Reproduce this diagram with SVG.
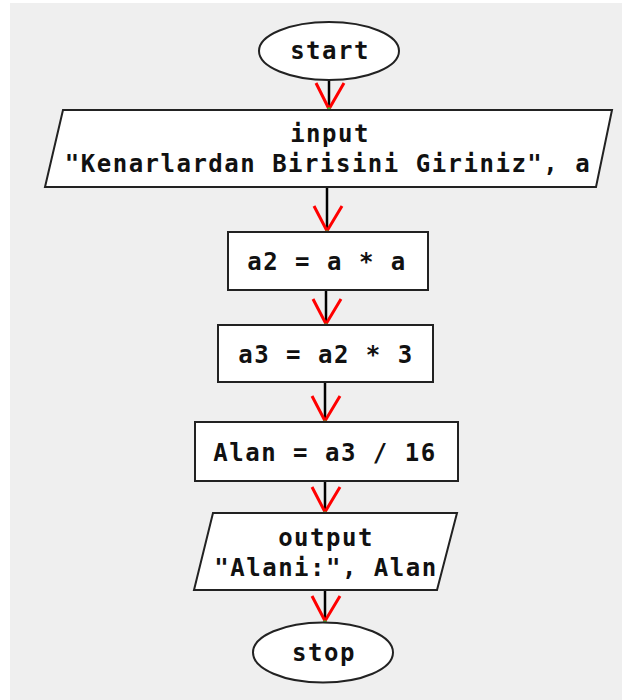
<svg xmlns="http://www.w3.org/2000/svg" width="622" height="700" viewBox="0 0 622 700">
<style>
.sh{fill:#fff;stroke:#222;stroke-width:2}
.t{font-family:"DejaVu Sans Mono","Liberation Mono",monospace;font-weight:bold;font-size:24px;fill:#111;text-anchor:middle;letter-spacing:1.5px}
.ln{stroke:#000;stroke-width:2.5}
.ah{fill:none;stroke:#f00;stroke-width:3}
.dot{fill:#3c3}
</style>
<rect x="0" y="0" width="622" height="700" fill="#fff"/>
<rect x="10" y="3" width="612" height="697" fill="#efefef"/>
<g id="connectors">
<line class="ln" x1="329" y1="80" x2="329" y2="110"/>
<polyline class="ah" points="316,83 329,109 344,83"/>
<line class="ln" x1="327" y1="187" x2="327" y2="232"/>
<polyline class="ah" points="314,206 327,231 342,206"/>
<line class="ln" x1="326" y1="290" x2="326" y2="325"/>
<polyline class="ah" points="313,299 326,324 341,299"/>
<line class="ln" x1="325" y1="382" x2="325" y2="422"/>
<polyline class="ah" points="312,396 325,421 340,396"/>
<line class="ln" x1="325" y1="481" x2="325" y2="513"/>
<polyline class="ah" points="312,487 325,512 340,487"/>
<line class="ln" x1="325" y1="590" x2="325" y2="622"/>
<polyline class="ah" points="312,596 325,621 340,596"/>
<rect class="dot" x="327.5" y="107.5" width="3" height="3"/>
<rect class="dot" x="325.5" y="230.5" width="3" height="3"/>
<rect class="dot" x="324.5" y="323.5" width="3" height="3"/>
<rect class="dot" x="323.5" y="420.5" width="3" height="3"/>
<rect class="dot" x="323.5" y="511.5" width="3" height="3"/>
<rect class="dot" x="323.5" y="620.5" width="3" height="3"/>
</g>
<g id="start">
<ellipse class="sh" cx="329" cy="51" rx="70" ry="29"/>
<text class="t" x="330" y="59">start</text>
</g>
<g id="input">
<polygon class="sh" points="63,110 612,110 596,187 45,187"/>
<text class="t" x="330" y="142">input</text>
<text class="t" x="328" y="172">"Kenarlardan Birisini Giriniz", a</text>
</g>
<g id="a2">
<rect class="sh" x="228" y="232" width="200" height="58"/>
<text class="t" x="327" y="270">a2 = a * a</text>
</g>
<g id="a3">
<rect class="sh" x="218" y="325" width="215" height="57"/>
<text class="t" x="326" y="363">a3 = a2 * 3</text>
</g>
<g id="alan">
<rect class="sh" x="195" y="422" width="263" height="59"/>
<text class="t" x="325" y="461">Alan = a3 / 16</text>
</g>
<g id="output">
<polygon class="sh" points="213,513 457,513 437,590 194,590"/>
<text class="t" x="326" y="546">output</text>
<text class="t" x="326" y="576">"Alani:", Alan</text>
</g>
<g id="stop">
<ellipse class="sh" cx="323" cy="652.5" rx="70" ry="30"/>
<text class="t" x="324" y="661">stop</text>
</g>
</svg>
